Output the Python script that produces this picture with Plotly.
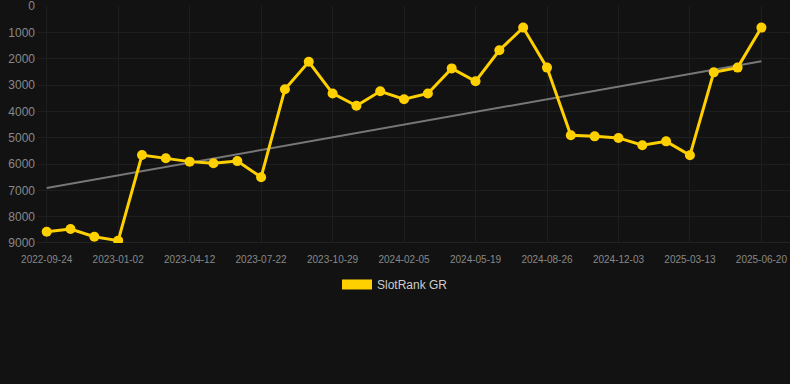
import numpy as np
import plotly.graph_objects as go

dates = [
    "2022-09-24", "2022-10-27", "2022-11-29", "2023-01-02", "2023-02-04",
    "2023-03-09", "2023-04-12", "2023-05-15", "2023-06-18", "2023-07-22",
    "2023-08-24", "2023-09-26", "2023-10-29", "2023-12-01", "2024-01-03",
    "2024-02-05", "2024-03-10", "2024-04-14", "2024-05-19", "2024-06-21",
    "2024-07-24", "2024-08-26", "2024-09-28", "2024-10-31", "2024-12-03",
    "2025-01-05", "2025-02-08", "2025-03-13", "2025-04-15", "2025-05-18",
    "2025-06-20",
]
rank = [
    8570, 8470, 8760, 8910, 5660, 5780, 5910, 5970, 5890, 6500,
    3160, 2120, 3320, 3790, 3240, 3540, 3320, 2370, 2860, 1680,
    820, 2340, 4910, 4950, 5010, 5290, 5140, 5670, 2520, 2340,
    820,
]
series_name = "SlotRank GR"
y_ticks = [0, 1000, 2000, 3000, 4000, 5000, 6000, 7000, 8000, 9000]

idx = np.arange(len(rank))
slope, intercept = np.polyfit(idx, rank, 1)
trend = slope * idx + intercept

YELLOW = "#FFD000"
BG = "#121212"
GRID = "#1e1e1e"
FONT = "Liberation Sans, Arial, sans-serif"

fig = go.Figure()
fig.add_trace(go.Scatter(
    x=dates, y=trend, mode="lines",
    line=dict(color="#777777", width=2),
    showlegend=False, hoverinfo="skip",
))
fig.add_trace(go.Scatter(
    x=dates, y=rank, mode="lines+markers",
    line=dict(color=YELLOW, width=3),
    marker=dict(color=YELLOW, size=10),
    showlegend=False, name=series_name,
))
fig.add_trace(go.Scatter(
    x=[None], y=[None], mode="lines",
    line=dict(color=YELLOW, width=11),
    name=series_name, showlegend=True,
))

fig.update_layout(
    width=790, height=384,
    paper_bgcolor=BG, plot_bgcolor=BG,
    margin=dict(l=38, r=0, t=6, b=141),
    font=dict(family=FONT, color="#888888"),
    legend=dict(
        orientation="h", x=0.4747, xanchor="center",
        y=-0.175, yanchor="middle",
        font=dict(size=12, color="#cccccc"),
        bgcolor="rgba(0,0,0,0)",
    ),
)
fig.update_xaxes(
    type="category",
    categoryorder="array", categoryarray=dates,
    range=[-0.365, 31.2],
    tickvals=dates[::3], ticktext=dates[::3],
    tickfont=dict(size=10, color="#888888"),
    showgrid=True, gridcolor=GRID, gridwidth=1,
    zeroline=False, showline=False,
    ticks="outside", ticklen=7, tickcolor="rgba(0,0,0,0)",
)
fig.update_yaxes(
    range=[9000, 0],
    tickvals=y_ticks,
    tickfont=dict(size=12, color="#888888"),
    showgrid=True, gridcolor=GRID, gridwidth=1,
    zeroline=False, showline=False,
    ticks="", ticklabelstandoff=2,
    ticklabeloverflow="allow",
)
fig.add_hline(y=9000, line=dict(color="#333333", width=1), layer="below")

fig.write_html("out.html")
